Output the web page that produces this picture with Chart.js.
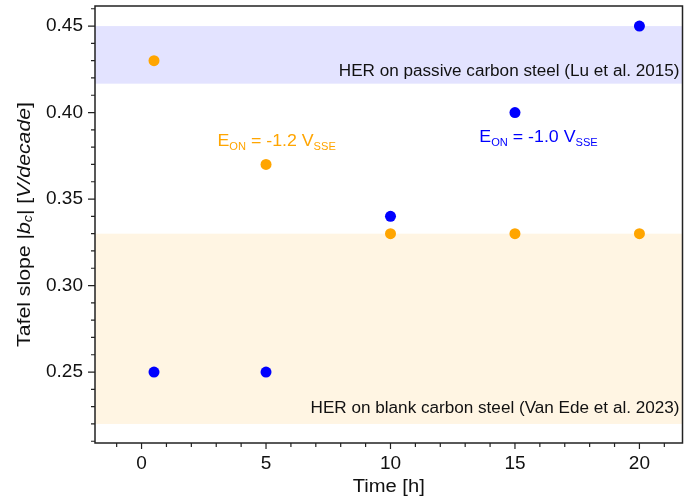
<!DOCTYPE html>
<html>
<head>
<meta charset="utf-8">
<script src="https://cdn.jsdelivr.net/npm/chart.js@4/dist/chart.umd.min.js"></script>
<style>
  html, body { margin: 0; padding: 0; background: #fff; }
  #wrap { width: 688px; height: 504px; }
</style>
</head>
<body>
<div id="wrap"><canvas id="tafelChart"></canvas></div>
<script>
// measured Tafel slopes per immersion time
const times = [0.5, 5, 10, 15, 20];
const slopeEon12 = [0.43, 0.37, 0.33, 0.33, 0.33]; // E_ON = -1.2 V_SSE
const slopeEon10 = [0.25, 0.25, 0.34, 0.40, 0.45]; // E_ON = -1.0 V_SSE

// literature ranges (shaded)
const passiveBand = [0.4167, 0.45];
const blankBand = [0.22, 0.33];

const xMajor = [0, 5, 10, 15, 20];
const xMinor = [-1, 1, 2, 3, 4, 6, 7, 8, 9, 11, 12, 13, 14, 16, 17, 18, 19, 21];
const yMajor = [0.25, 0.30, 0.35, 0.40, 0.45];
const yMinor = [0.21, 0.22, 0.23, 0.24, 0.26, 0.27, 0.28, 0.29, 0.31, 0.32, 0.33, 0.34,
  0.36, 0.37, 0.38, 0.39, 0.41, 0.42, 0.43, 0.44, 0.46];

const ORANGE = '#ffa500';
const BLUE = '#0000ff';
const FONT = 'Liberation Sans, Arial, sans-serif';

function setFont(ctx, p) {
  ctx.font = (p.italic ? 'italic ' : '') + p.size + 'px ' + FONT;
}
function richWidth(ctx, parts) {
  let w = 0;
  parts.forEach(p => { setFont(ctx, p); w += ctx.measureText(p.t).width; });
  return w;
}
// draws text pieces (normal / italic / subscript), stretched by sx horizontally
function drawRich(ctx, parts, x, y, sx) {
  ctx.save();
  ctx.translate(x, y);
  ctx.scale(sx, 1);
  let cx = 0;
  parts.forEach(p => {
    setFont(ctx, p);
    ctx.fillText(p.t, cx, p.dy || 0);
    cx += ctx.measureText(p.t).width;
  });
  ctx.restore();
}

const decorPlugin = {
  id: 'decor',
  beforeDatasetsDraw(chart) {
    const { ctx, chartArea: a, scales: { y } } = chart;
    ctx.save();
    ctx.fillStyle = 'rgba(0,0,255,0.11)';
    ctx.fillRect(a.left, y.getPixelForValue(passiveBand[1]), a.right - a.left,
      y.getPixelForValue(passiveBand[0]) - y.getPixelForValue(passiveBand[1]));
    ctx.fillStyle = 'rgba(255,165,0,0.11)';
    ctx.fillRect(a.left, y.getPixelForValue(blankBand[1]), a.right - a.left,
      y.getPixelForValue(blankBand[0]) - y.getPixelForValue(blankBand[1]));

    ctx.fillStyle = '#111';
    ctx.textBaseline = 'middle';
    ctx.textAlign = 'left';
    const sx = 1.07;
    const p1 = [{ t: 'HER on passive carbon steel (Lu et al. 2015)', size: 16 }];
    const p2 = [{ t: 'HER on blank carbon steel (Van Ede et al. 2023)', size: 16 }];
    drawRich(ctx, p1, a.right - 3 - richWidth(ctx, p1) * sx, y.getPixelForValue(0.4234), sx);
    drawRich(ctx, p2, a.right - 3 - richWidth(ctx, p2) * sx, y.getPixelForValue(0.2286), sx);
    ctx.restore();
  },
  afterDatasetsDraw(chart) {
    const { ctx, scales: { x, y } } = chart;
    ctx.save();
    ctx.textAlign = 'left';
    ctx.textBaseline = 'middle';
    ctx.fillStyle = ORANGE;
    drawRich(ctx, [{ t: 'E', size: 16 }, { t: 'ON', size: 10, dy: 5 }, { t: ' = -1.2 V', size: 16 }, { t: 'SSE', size: 10, dy: 5 }],
      x.getPixelForValue(3.05), y.getPixelForValue(0.383), 1.11);
    ctx.fillStyle = BLUE;
    drawRich(ctx, [{ t: 'E', size: 16 }, { t: 'ON', size: 10, dy: 5 }, { t: ' = -1.0 V', size: 16 }, { t: 'SSE', size: 10, dy: 5 }],
      x.getPixelForValue(13.57), y.getPixelForValue(0.3853), 1.11);
    ctx.restore();
  },
  afterDraw(chart) {
    const { ctx, chartArea: a, scales: { x, y } } = chart;
    ctx.save();
    ctx.strokeStyle = '#222';
    ctx.lineWidth = 1.5;
    ctx.strokeRect(a.left, a.top, a.right - a.left, a.bottom - a.top);

    ctx.lineWidth = 1.2;
    ctx.beginPath();
    xMajor.concat(xMinor).forEach((v, i) => {
      const px = x.getPixelForValue(v);
      ctx.moveTo(px, a.bottom);
      ctx.lineTo(px, a.bottom + (i < xMajor.length ? 6 : 4));
    });
    yMajor.concat(yMinor).forEach((v, i) => {
      const py = y.getPixelForValue(v);
      ctx.moveTo(a.left, py);
      ctx.lineTo(a.left - (i < yMajor.length ? 7 : 4), py);
    });
    ctx.stroke();

    // axis titles
    ctx.fillStyle = '#111';
    ctx.textBaseline = 'middle';
    ctx.textAlign = 'left';
    const xTitle = [{ t: 'Time [h]', size: 18 }];
    const sxX = 1.12;
    drawRich(ctx, xTitle, (a.left + a.right) / 2 - richWidth(ctx, xTitle) * sxX / 2, 487, sxX);

    const yTitle = [
      { t: 'Tafel slope |', size: 18 },
      { t: 'b', size: 18, italic: true },
      { t: 'c', size: 12, italic: true, dy: 4 },
      { t: '| [', size: 18 },
      { t: 'V/decade', size: 18, italic: true },
      { t: ']', size: 18 }
    ];
    const sxY = 1.18;
    ctx.translate(25, (a.top + a.bottom) / 2);
    ctx.rotate(-Math.PI / 2);
    drawRich(ctx, yTitle, -richWidth(ctx, yTitle) * sxY / 2, 0, sxY);
    ctx.restore();
  }
};

new Chart(document.getElementById('tafelChart'), {
  type: 'scatter',
  data: {
    datasets: [
      {
        label: 'E_ON = -1.2 V_SSE',
        data: times.map((t, i) => ({ x: t, y: slopeEon12[i] })),
        backgroundColor: ORANGE,
        borderWidth: 0,
        pointRadius: 5.5,
        pointHoverRadius: 5.5
      },
      {
        label: 'E_ON = -1.0 V_SSE',
        data: times.map((t, i) => ({ x: t, y: slopeEon10[i] })),
        backgroundColor: BLUE,
        borderWidth: 0,
        pointRadius: 5.5,
        pointHoverRadius: 5.5
      }
    ]
  },
  options: {
    responsive: true,
    maintainAspectRatio: false,
    animation: false,
    layout: { padding: { top: 6, right: 3, left: 0, bottom: 0 } },
    plugins: { legend: { display: false }, tooltip: { enabled: false } },
    scales: {
      x: {
        type: 'linear',
        min: -1.87,
        max: 21.73,
        afterBuildTicks: s => { s.ticks = xMajor.map(v => ({ value: v })); },
        afterFit: s => { s.height = 61; s.paddingLeft = 0; s.paddingRight = 0; },
        grid: { display: false, drawTicks: true, tickLength: 6 },
        border: { display: false },
        ticks: { font: { size: 19, family: FONT }, color: '#111', padding: 3, maxRotation: 0 }
      },
      y: {
        min: 0.209,
        max: 0.4616,
        afterBuildTicks: s => { s.ticks = yMajor.map(v => ({ value: v })); },
        afterFit: s => { s.width = 95; s.paddingTop = 0; s.paddingBottom = 0; },
        grid: { display: false, drawTicks: true, tickLength: 7 },
        border: { display: false },
        ticks: {
          font: { size: 19, family: FONT }, color: '#111', padding: 5,
          callback: v => v.toFixed(2)
        }
      }
    }
  },
  plugins: [decorPlugin]
});
</script>
</body>
</html>
